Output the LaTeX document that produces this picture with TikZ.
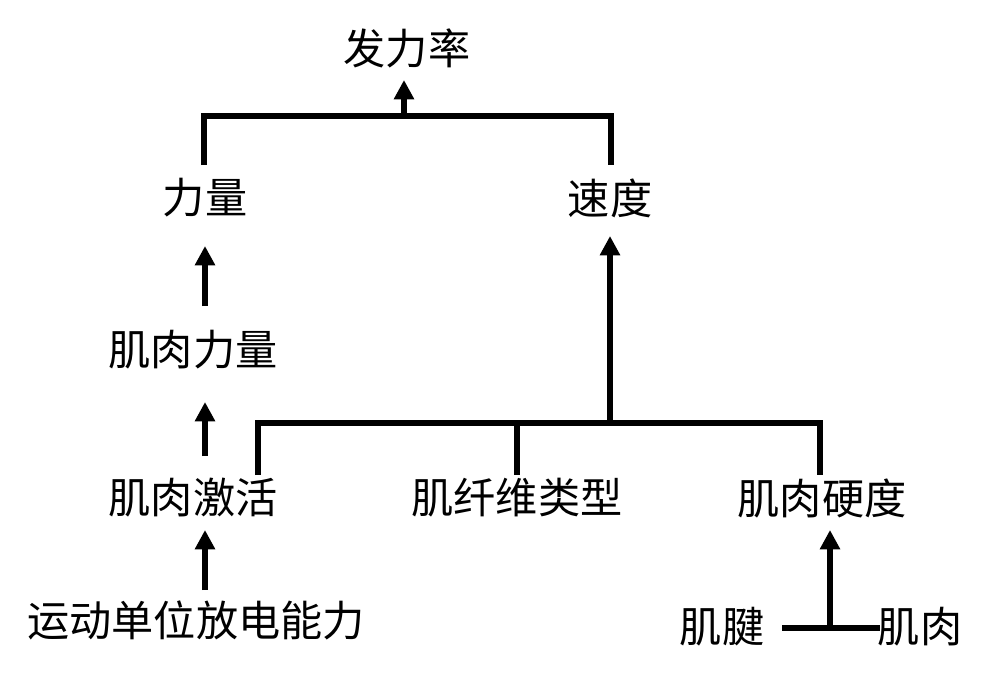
\documentclass[tikz,border=0pt]{standalone}
\usepackage{fontspec}
\setmainfont{Noto Sans CJK SC}
\usetikzlibrary{arrows.meta}
\begin{document}
\begin{tikzpicture}[x=0.02cm,y=-0.02cm,
  lbl/.style={font=\fontsize{24}{28}\selectfont,inner sep=0pt},
  ln/.style={line width=3pt},
  arr/.style={ln,-{Triangle[width=11pt,length=11pt]}}]
\useasboundingbox (0,0) rectangle (990,684);
\node[lbl] (fll) at (407,48) {发力率};
\node[lbl] (ll) at (205,198) {力量};
\node[lbl] (sd) at (610,198) {速度};
\node[lbl] (jrll) at (193,350) {肌肉力量};
\node[lbl] (jrjh) at (193,498) {肌肉激活};
\node[lbl] (jxw) at (517,498) {肌纤维类型};
\node[lbl] (jryd) at (822,498) {肌肉硬度};
\node[lbl] (ydw) at (196,620) {运动单位放电能力};
\node[lbl] (jj) at (722,627) {肌腱};
\node[lbl] (jr) at (920,627) {肌肉};
% top bracket
\coordinate (t1) at (204,165); \coordinate (t2) at (204,116);
\coordinate (t3) at (611,116); \coordinate (t4) at (611,165);
\coordinate (tm) at (404,116); \coordinate (ta) at (404,80);
\draw[ln] (t1) -- (t2) -- (t3) -- (t4);
\draw[arr] (tm) -- (ta);
% left chain
\coordinate (a1) at (205,306); \coordinate (a2) at (205,246);
\draw[arr] (a1) -- (a2);
\coordinate (b1) at (205,456); \coordinate (b2) at (205,402);
\draw[arr] (b1) -- (b2);
\coordinate (c1) at (205,590); \coordinate (c2) at (205,530);
\draw[arr] (c1) -- (c2);
% speed
\coordinate (s1) at (258,475); \coordinate (s2) at (258,423);
\coordinate (s3) at (820,423); \coordinate (s4) at (820,475);
\coordinate (s5) at (517,423); \coordinate (s6) at (517,475);
\coordinate (sm) at (610,423); \coordinate (sa) at (610,236);
\draw[ln] (s1) -- (s2) -- (s3) -- (s4);
\draw[ln] (s5) -- (s6);
\draw[arr] (sm) -- (sa);
% bottom
\coordinate (d1) at (782,628); \coordinate (d2) at (880,628);
\coordinate (dm) at (830,628); \coordinate (da) at (830,530);
\draw[ln] (d1) -- (d2);
\draw[arr] (dm) -- (da);
\end{tikzpicture}
\end{document}
